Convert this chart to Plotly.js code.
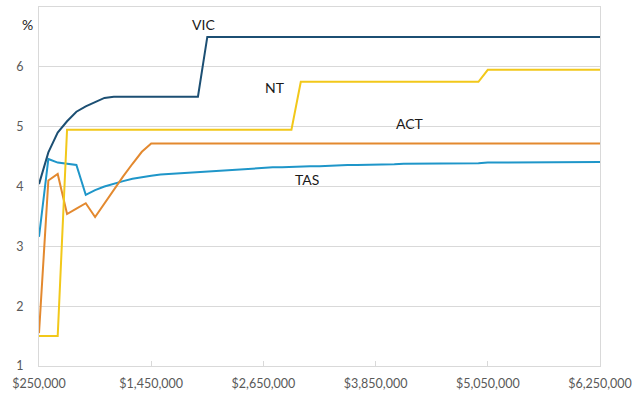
<!DOCTYPE html>
<html>
<head>
<meta charset="utf-8">
<script src="https://cdn.plot.ly/plotly-3.0.1.min.js"></script>
<style>html,body{margin:0;padding:0;background:#fff;}#chart{width:643px;height:396px;}</style>
</head>
<body>
<div id="chart"></div>
<script>
// Property values: $250,000 to $6,250,000 in $100,000 steps
const propertyValues = [];
for (let v = 250000; v <= 6250000; v += 100000) propertyValues.push(v);

const tickValues = [250000, 1450000, 2650000, 3850000, 5050000, 6250000];
const tickLabels = ["$250,000", "$1,450,000", "$2,650,000", "$3,850,000", "$5,050,000", "$6,250,000"];

const vic = [4.04, 4.57, 4.90, 5.09, 5.25, 5.34, 5.41, 5.48, 5.50, 5.50,
             5.50, 5.50, 5.50, 5.50, 5.50, 5.50, 5.50, 5.50, 6.50, 6.50,
             6.50, 6.50, 6.50, 6.50, 6.50, 6.50, 6.50, 6.50, 6.50, 6.50,
             6.50, 6.50, 6.50, 6.50, 6.50, 6.50, 6.50, 6.50, 6.50, 6.50,
             6.50, 6.50, 6.50, 6.50, 6.50, 6.50, 6.50, 6.50, 6.50, 6.50,
             6.50, 6.50, 6.50, 6.50, 6.50, 6.50, 6.50, 6.50, 6.50, 6.50, 6.50];

const nt = [1.50, 1.50, 1.50, 4.95, 4.95, 4.95, 4.95, 4.95, 4.95, 4.95,
            4.95, 4.95, 4.95, 4.95, 4.95, 4.95, 4.95, 4.95, 4.95, 4.95,
            4.95, 4.95, 4.95, 4.95, 4.95, 4.95, 4.95, 4.95, 5.75, 5.75,
            5.75, 5.75, 5.75, 5.75, 5.75, 5.75, 5.75, 5.75, 5.75, 5.75,
            5.75, 5.75, 5.75, 5.75, 5.75, 5.75, 5.75, 5.75, 5.95, 5.95,
            5.95, 5.95, 5.95, 5.95, 5.95, 5.95, 5.95, 5.95, 5.95, 5.95, 5.95];

const act = [1.55, 4.10, 4.21, 3.54, 3.63, 3.72, 3.49, 3.72, 3.95, 4.17,
             4.38, 4.58, 4.72, 4.72, 4.72, 4.72, 4.72, 4.72, 4.72, 4.72,
             4.72, 4.72, 4.72, 4.72, 4.72, 4.72, 4.72, 4.72, 4.72, 4.72,
             4.72, 4.72, 4.72, 4.72, 4.72, 4.72, 4.72, 4.72, 4.72, 4.72,
             4.72, 4.72, 4.72, 4.72, 4.72, 4.72, 4.72, 4.72, 4.72, 4.72,
             4.72, 4.72, 4.72, 4.72, 4.72, 4.72, 4.72, 4.72, 4.72, 4.72, 4.72];

const tas = [3.16, 4.46, 4.40, 4.38, 4.36, 3.86, 3.94, 4.00, 4.05, 4.09,
             4.13, 4.16, 4.18, 4.20, 4.21, 4.23, 4.24, 4.25, 4.26, 4.27,
             4.28, 4.29, 4.30, 4.30, 4.31, 4.32, 4.32, 4.33, 4.33, 4.34,
             4.34, 4.35, 4.35, 4.36, 4.36, 4.36, 4.37, 4.37, 4.37, 4.38,
             4.38, 4.38, 4.38, 4.39, 4.39, 4.39, 4.39, 4.39, 4.40, 4.40,
             4.40, 4.40, 4.40, 4.40, 4.41, 4.41, 4.41, 4.41, 4.41, 4.41, 4.41];

const seriesNames = ["VIC", "NT", "ACT", "TAS"];
const seriesData = [vic, nt, act, tas];
const seriesColors = ["#1c4f73", "#f2c81a", "#e3892f", "#1f96c9"];
const labelX = [2010000, 2770000, 4215000, 3115000];
const labelY = [6.71, 5.65, 5.05, 4.11];

const traces = seriesNames.map((n, i) => ({
  type: "scatter", mode: "lines", name: n,
  x: propertyValues, y: seriesData[i],
  line: {color: seriesColors[i], width: 2},
  hoverinfo: "skip"
}));
// draw order: TAS, ACT, NT, VIC on top
const ordered = [traces[3], traces[2], traces[1], traces[0]];

const annotations = seriesNames.map((n, i) => ({
  x: labelX[i], y: labelY[i], xref: "x", yref: "y",
  text: n, showarrow: false,
  font: {family: "Lato, 'Open Sans', sans-serif", size: 14, color: "#1a1a1a"}
}));
annotations.push({
  x: -0.034, y: 6.71, xref: "paper", yref: "y", text: "%", showarrow: false,
  font: {family: "Lato, 'Open Sans', sans-serif", size: 14, color: "#1a1a1a"}
});

const layout = {
  width: 643, height: 396,
  margin: {l: 39, r: 43, t: 6.5, b: 29.5},
  paper_bgcolor: "#ffffff", plot_bgcolor: "#ffffff",
  showlegend: false,
  font: {family: "Lato, 'Open Sans', sans-serif", size: 12, color: "#595959"},
  xaxis: {
    type: "linear", range: [250000, 6250000],
    tickvals: tickValues, ticktext: tickLabels,
    ticks: "inside", ticklen: 5, tickcolor: "#d9d9d9", tickwidth: 1,
    showgrid: false, zeroline: false,
    showline: true, linecolor: "#d9d9d9", linewidth: 1, mirror: true,
    ticklabelstandoff: 6,
    tickfont: {size: 12.5, color: "#595959"}
  },
  yaxis: {
    range: [1, 7], tickvals: [1, 2, 3, 4, 5, 6],
    showgrid: true, gridcolor: "#d9d9d9", gridwidth: 1, zeroline: false,
    showline: true, linecolor: "#d9d9d9", linewidth: 1, mirror: true,
    ticks: "", ticklabelstandoff: 12,
    tickfont: {size: 12.5, color: "#595959"}
  },
  annotations: annotations
};

Plotly.newPlot("chart", ordered, layout, {staticPlot: true, displayModeBar: false});
</script>
</body>
</html>
